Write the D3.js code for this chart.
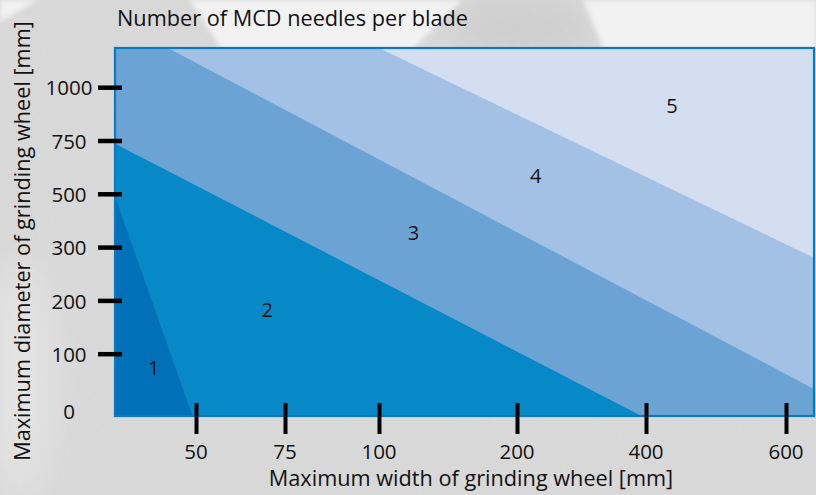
<!DOCTYPE html>
<html>
<head>
<meta charset="utf-8">
<script src="https://cdn.jsdelivr.net/npm/d3@7/dist/d3.min.js"></script>
<style>
  html, body { margin: 0; padding: 0; background: #d6d6d6; }
  svg { display: block; }
  text { font-family: "Open Sans", "DejaVu Sans", sans-serif; fill: #111; }
</style>
</head>
<body>
<svg id="chart" width="816" height="495"></svg>
<script>
// Tick values of both axes
const widthTicks = [50, 75, 100, 200, 400, 600];          // maximum wheel width [mm]
const diameterTicks = [0, 100, 200, 300, 500, 750, 1000]; // maximum wheel diameter [mm]

// Axis extent beyond the outer ticks
const widthExtent = [27, 640];
const diameterExtent = [-17, 1184];

// Needle-count zones, each one the area below its upper boundary,
// vertices given as [width, diameter]; ±Infinity means the plot edge.
const I = Infinity;
const zoneNames = ["5", "4", "3", "2", "1"];
const zone5 = [[-I, -I], [I, -I], [I, I], [-I, I]];
const zone4 = [[-I, -I], [I, -I], [I, 280], [100, I], [-I, I]];
const zone3 = [[-I, -I], [I, -I], [I, 34], [42, I], [-I, I]];
const zone2 = [[-I, -I], [393, -I], [-I, 735]];
const zone1 = [[-I, -I], [49, -I], [-I, 490]];
const zoneColors = ["#d3dff1", "#a3c1e5", "#6ba3d4", "#0789c7", "#0070b8"];

// Where each zone number sits, as [width, diameter]
const labelPos = [[437, 913], [229, 584], [125, 354], [70, 182], [38, 73]];

const svg = d3.select("#chart");
const W = 816, H = 495;

// ---- stone-like backdrop ----
const defs = svg.append("defs");
const grain = defs.append("filter").attr("id", "grain")
  .attr("x", 0).attr("y", 0).attr("width", "100%").attr("height", "100%");
grain.append("feTurbulence").attr("type", "fractalNoise")
  .attr("baseFrequency", 0.12).attr("numOctaves", 3).attr("seed", 7);
grain.append("feColorMatrix").attr("type", "matrix")
  .attr("values", "0 0 0 0 1  0 0 0 0 1  0 0 0 0 1  0 0 0 0.7 -0.3");
const soft = defs.append("filter").attr("id", "soft");
soft.append("feGaussianBlur").attr("stdDeviation", 2.5);
const wide = defs.append("filter").attr("id", "wide")
  .attr("x", "-50%").attr("y", "-50%").attr("width", "200%").attr("height", "200%");
wide.append("feGaussianBlur").attr("stdDeviation", 18);

const bg = svg.append("g");
bg.append("rect").attr("width", W).attr("height", H).attr("fill", "#d8d8d8");
bg.append("ellipse").attr("cx", 20).attr("cy", 380).attr("rx", 30).attr("ry", 120)
  .attr("fill", "#e4e4e4").attr("filter", "url(#wide)");
bg.append("ellipse").attr("cx", 520).attr("cy", 30).attr("rx", 70).attr("ry", 30)
  .attr("fill", "#cdcdcd").attr("filter", "url(#wide)");
bg.append("rect").attr("width", W).attr("height", H).attr("filter", "url(#grain)").attr("opacity", 0.12);
const paper = [
  [[0, 0], [38, 0], [0, 22]],
  [[190, 0], [462, 0], [412, 50], [222, 50]],
  [[583, 0], [816, 0], [816, 50], [604, 50]]
];
bg.selectAll("path.paper").data(paper).join("path").attr("class", "paper")
  .attr("d", d => "M" + d.join("L") + "Z")
  .attr("fill", "#f2f2f2").attr("filter", "url(#soft)");

// ---- scales ----
const plot = { left: 115, top: 48, right: 814, bottom: 416 };
const x = d3.scaleLinear()
  .domain([widthExtent[0], ...widthTicks, widthExtent[1]])
  .range([plot.left, 196, 285, 379, 517, 646, 786, plot.right])
  .clamp(true);
const yZero = 407, yStep = 53.3;
const y = d3.scaleLinear()
  .domain([diameterExtent[0], ...diameterTicks, diameterExtent[1]])
  .range([plot.bottom, ...diameterTicks.map((_, i) => yZero - i * yStep), plot.top])
  .clamp(true);

// ---- zones ----
const zones = [zone5, zone4, zone3, zone2, zone1];
const line = d3.line().x(d => x(d[0])).y(d => y(d[1])).curve(d3.curveLinearClosed);
svg.append("g").selectAll("path").data(zones).join("path")
  .attr("d", line)
  .attr("fill", (d, i) => zoneColors[i]);

// frame
svg.append("rect")
  .attr("x", plot.left).attr("y", plot.top)
  .attr("width", plot.right - plot.left).attr("height", plot.bottom - plot.top)
  .attr("fill", "none").attr("stroke", "#0b78c2").attr("stroke-width", 2.2);

// zone numbers
svg.append("g").selectAll("text").data(labelPos).join("text")
  .attr("x", d => x(d[0])).attr("y", d => y(d[1]))
  .attr("dy", "0.35em").attr("text-anchor", "middle")
  .style("font-size", "20px")
  .text((d, i) => zoneNames[i]);

// ---- axes ----
const yAxis = d3.axisLeft(y).tickValues(diameterTicks.filter(d => d > 0))
  .tickSize(24).tickSizeOuter(0).tickFormat("");
svg.append("g").attr("transform", `translate(${plot.left + 7},0)`).call(yAxis)
  .call(g => g.select(".domain").remove())
  .call(g => g.selectAll(".tick line").attr("stroke", "#000").attr("stroke-width", 4.5));
svg.append("g").selectAll("text").data(diameterTicks).join("text")
  .attr("x", 69).attr("y", d => y(d) + (d === 0 ? 5 : 1))
  .attr("dy", "0.35em").attr("text-anchor", "middle")
  .style("font-size", "20.5px")
  .text(d => d);

const xAxis = d3.axisBottom(x).tickValues(widthTicks)
  .tickSize(31).tickSizeOuter(0).tickFormat("");
svg.append("g").attr("transform", `translate(0,${plot.bottom - 13})`).call(xAxis)
  .call(g => g.select(".domain").remove())
  .call(g => g.selectAll(".tick line").attr("stroke", "#000").attr("stroke-width", 4));
svg.append("g").selectAll("text").data(widthTicks).join("text")
  .attr("x", d => x(d)).attr("y", 452)
  .attr("dy", "0.35em").attr("text-anchor", "middle")
  .style("font-size", "20.5px")
  .text(d => d);

// ---- titles ----
svg.append("text").attr("x", 117).attr("y", 26)
  .style("font-size", "21.7px")
  .text("Number of MCD needles per blade");
svg.append("text").attr("x", 471).attr("y", 486).attr("text-anchor", "middle")
  .style("font-size", "21.7px")
  .text("Maximum width of grinding wheel [mm]");
svg.append("text").attr("transform", "translate(30,241) rotate(-90)")
  .attr("text-anchor", "middle")
  .style("font-size", "21.7px")
  .text("Maximum diameter of grinding wheel [mm]");
</script>
</body>
</html>
